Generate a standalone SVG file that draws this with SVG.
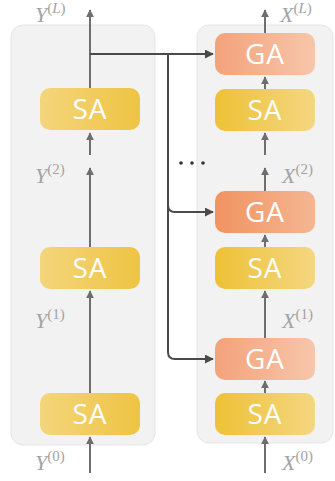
<svg xmlns="http://www.w3.org/2000/svg" width="335" height="481" viewBox="0 0 335 481">
  <defs>
    <linearGradient id="saL" x1="0" y1="0" x2="1" y2="0">
      <stop offset="0" stop-color="#f4d57c"/>
      <stop offset="1" stop-color="#eec443"/>
    </linearGradient>
    <linearGradient id="saR" x1="0" y1="0" x2="1" y2="0">
      <stop offset="0" stop-color="#eec136"/>
      <stop offset="1" stop-color="#f4d781"/>
    </linearGradient>
    <linearGradient id="ga" x1="0" y1="0" x2="1" y2="0">
      <stop offset="0" stop-color="#f3a27a"/>
      <stop offset="1" stop-color="#f7c6aa"/>
    </linearGradient>
    <linearGradient id="gaMid" x1="0" y1="0" x2="1" y2="0">
      <stop offset="0" stop-color="#f0935f"/>
      <stop offset="1" stop-color="#f5b693"/>
    </linearGradient>
    <marker id="headG" viewBox="0 0 10 10" refX="9" refY="5" markerWidth="4" markerHeight="4" orient="auto" markerUnits="strokeWidth">
      <path d="M0 0 L10 5 L0 10 z" fill="#6e6e6e"/>
    </marker>
    <marker id="headD" viewBox="0 0 10 10" refX="9" refY="5" markerWidth="4.5" markerHeight="4.5" orient="auto" markerUnits="strokeWidth">
      <path d="M0 0 L10 5 L0 10 z" fill="#4a4a4a"/>
    </marker>
  </defs>
  <style>
    .panel { fill: #f2f2f3; stroke: #e5e5e7; stroke-width: 1; }
    .box text { font-family: "Open Sans", "DejaVu Sans", sans-serif; font-size: 28px; letter-spacing: 1px; fill: #ffffff; text-anchor: middle; }
    .flow { stroke: #6e6e6e; stroke-width: 2; fill: none; marker-end: url(#headG); }
    .link { stroke: #4a4a4a; stroke-width: 2; fill: none; }
    .lbl { font-family: "Liberation Serif", "DejaVu Serif", serif; font-style: italic; font-size: 22px; fill: #a3a3a3; }
    .sup { font-family: "Liberation Serif", "DejaVu Serif", serif; font-style: normal; font-size: 15px; fill: #a3a3a3; }
    .supi { font-style: italic; }
  </style>

  <!-- encoder / decoder panels -->
  <rect class="panel" x="11" y="25" width="144" height="420" rx="12"/>
  <rect class="panel" x="197" y="25" width="136" height="418" rx="12"/>

  <!-- vertical data flow -->
  <g id="connectors">
    <!-- left stack -->
    <line class="flow" x1="90" y1="473" x2="90" y2="437"/>
    <line class="flow" x1="90" y1="393" x2="90" y2="291"/>
    <line class="flow" x1="90" y1="247" x2="90" y2="168"/>
    <line class="flow" x1="90" y1="155" x2="90" y2="133"/>
    <line class="flow" x1="90" y1="88" x2="90" y2="10"/>
    <!-- right stack -->
    <line class="flow" x1="265" y1="473" x2="265" y2="437"/>
    <line class="flow" x1="265" y1="393" x2="265" y2="381"/>
    <line class="flow" x1="265" y1="338" x2="265" y2="291"/>
    <line class="flow" x1="265" y1="247" x2="265" y2="235"/>
    <line class="flow" x1="265" y1="191" x2="265" y2="168"/>
    <line class="flow" x1="265" y1="155" x2="265" y2="133"/>
    <line class="flow" x1="265" y1="89" x2="265" y2="77"/>
    <line class="flow" x1="265" y1="33" x2="265" y2="10"/>
    <!-- cross links from the left output to each GA -->
    <path class="link" d="M90 54 H168"/>
    <path class="link" d="M168 54 H213" marker-end="url(#headD)"/>
    <path class="link" d="M168 54 V352 Q168 359 175 359 H213" marker-end="url(#headD)"/>
    <path class="link" d="M168 205 Q168 212 175 212 H213" marker-end="url(#headD)"/>
    <!-- ellipsis -->
    <circle cx="181" cy="163" r="1.8" fill="#333"/>
    <circle cx="192" cy="163" r="1.8" fill="#333"/>
    <circle cx="203" cy="163" r="1.8" fill="#333"/>
  </g>

  <!-- left SA blocks -->
  <g id="y-sa-top" class="box">
    <rect x="40" y="88" width="100" height="42" rx="10" fill="url(#saL)"/>
    <text x="90" y="119">SA</text>
  </g>
  <g id="y-sa-mid" class="box">
    <rect x="40" y="247" width="100" height="42" rx="10" fill="url(#saL)"/>
    <text x="90" y="278">SA</text>
  </g>
  <g id="y-sa-bot" class="box">
    <rect x="40" y="393" width="100" height="42" rx="10" fill="url(#saL)"/>
    <text x="90" y="424">SA</text>
  </g>

  <!-- right GA / SA blocks -->
  <g id="x-ga-top" class="box">
    <rect x="215" y="33" width="100" height="42" rx="10" fill="url(#ga)"/>
    <text x="265" y="64">GA</text>
  </g>
  <g id="x-sa-top" class="box">
    <rect x="215" y="89" width="100" height="42" rx="10" fill="url(#saR)"/>
    <text x="265" y="120">SA</text>
  </g>
  <g id="x-ga-mid" class="box">
    <rect x="215" y="191" width="100" height="42" rx="10" fill="url(#gaMid)"/>
    <text x="265" y="222">GA</text>
  </g>
  <g id="x-sa-mid" class="box">
    <rect x="215" y="247" width="100" height="42" rx="10" fill="url(#saR)"/>
    <text x="265" y="278">SA</text>
  </g>
  <g id="x-ga-bot" class="box">
    <rect x="215" y="338" width="100" height="42" rx="10" fill="url(#ga)"/>
    <text x="265" y="369">GA</text>
  </g>
  <g id="x-sa-bot" class="box">
    <rect x="215" y="393" width="100" height="42" rx="10" fill="url(#saR)"/>
    <text x="265" y="424">SA</text>
  </g>

  <!-- layer labels -->
  <g id="labels">
    <text class="lbl" x="35" y="22">Y<tspan class="sup" dy="-9">(</tspan><tspan class="sup supi">L</tspan><tspan class="sup">)</tspan></text>
    <text class="lbl" x="35" y="183">Y<tspan class="sup" dy="-9">(2)</tspan></text>
    <text class="lbl" x="35" y="328">Y<tspan class="sup" dy="-9">(1)</tspan></text>
    <text class="lbl" x="35" y="470">Y<tspan class="sup" dy="-9">(0)</tspan></text>
    <text class="lbl" x="280" y="22">X<tspan class="sup" dy="-9">(</tspan><tspan class="sup supi">L</tspan><tspan class="sup">)</tspan></text>
    <text class="lbl" x="282" y="183">X<tspan class="sup" dy="-9">(2)</tspan></text>
    <text class="lbl" x="282" y="328">X<tspan class="sup" dy="-9">(1)</tspan></text>
    <text class="lbl" x="282" y="470">X<tspan class="sup" dy="-9">(0)</tspan></text>
  </g>
</svg>
